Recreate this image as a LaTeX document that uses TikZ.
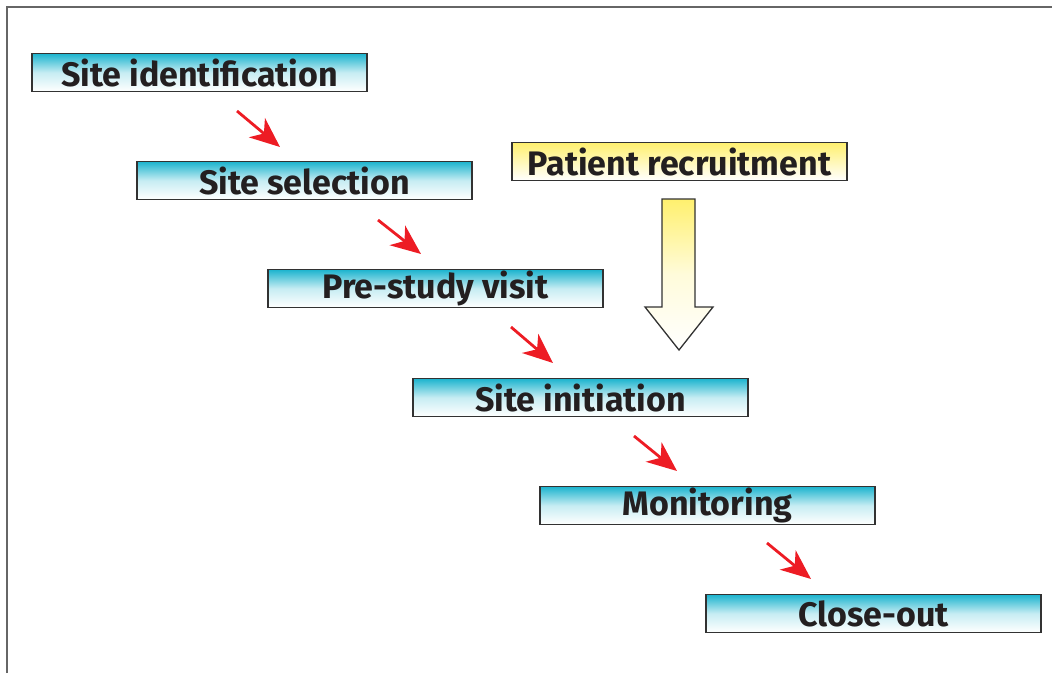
\documentclass[tikz,border=0pt]{standalone}
\usepackage{fontspec}
\setmainfont{Fira Sans}
\usetikzlibrary{arrows.meta}
\definecolor{boxcyan}{RGB}{28,180,206}
\definecolor{boxyellow}{RGB}{255,240,110}
\definecolor{arrowred}{RGB}{237,28,36}
\definecolor{txt}{RGB}{35,31,32}
\definecolor{edge}{RGB}{50,50,50}
\tikzset{
  stagebox/.style={draw=edge, line width=1.5pt, minimum width=335pt, minimum height=38pt,
    inner sep=0pt, shading=axis, top color=boxcyan, bottom color=white, middle color=boxcyan!25,
    font=\fontsize{34}{34}\selectfont\bfseries, text=txt},
  yellowbox/.style={stagebox, top color=boxyellow, middle color=boxyellow!30, bottom color=white},
  redarrow/.style={draw=arrowred, line width=2.8pt, -{Stealth[length=30pt,width=25pt,inset=9pt]}},
}
\begin{document}
\begin{tikzpicture}[x=1pt,y=-1pt]
\useasboundingbox (0,0) rectangle (1052,673);
\draw[draw=gray!80!black, line width=2pt] (7,673) -- (7,7) -- (1052,7);

\node[stagebox] (ident) at (199.5,72.5) {Site identification};
\node[stagebox] (select) at (304.5,180.5) {Site selection};
\node[stagebox] (prestudy) at (435.5,288.5) {Pre-study visit};
\node[stagebox] (init) at (580.5,397.5) {Site initiation};
\node[stagebox] (monit) at (707.5,505.5) {Monitoring};
\node[stagebox] (close) at (873.5,613.5) {Close-out};
\node[yellowbox] (recruit) at (679.5,161.5) {Patient recruitment};

% big hollow arrow
\path[draw=edge, line width=1.3pt, shading=axis, top color=boxyellow, bottom color=white, middle color=boxyellow!25]
  (662,199) -- (695,199) -- (695,307) -- (713,307) -- (679,350) -- (645,307) -- (662,307) -- cycle;

% red arrows
\coordinate (a1s) at (237,111); \coordinate (a1e) at (280,147);
\coordinate (a2s) at (378,220); \coordinate (a2e) at (421,254);
\coordinate (a3s) at (511,327); \coordinate (a3e) at (553,363);
\coordinate (a4s) at (634,436); \coordinate (a4e) at (677,471);
\coordinate (a5s) at (767,543); \coordinate (a5e) at (811,579);
\draw[redarrow] (a1s) -- (a1e);
\draw[redarrow] (a2s) -- (a2e);
\draw[redarrow] (a3s) -- (a3e);
\draw[redarrow] (a4s) -- (a4e);
\draw[redarrow] (a5s) -- (a5e);
\end{tikzpicture}
\end{document}
